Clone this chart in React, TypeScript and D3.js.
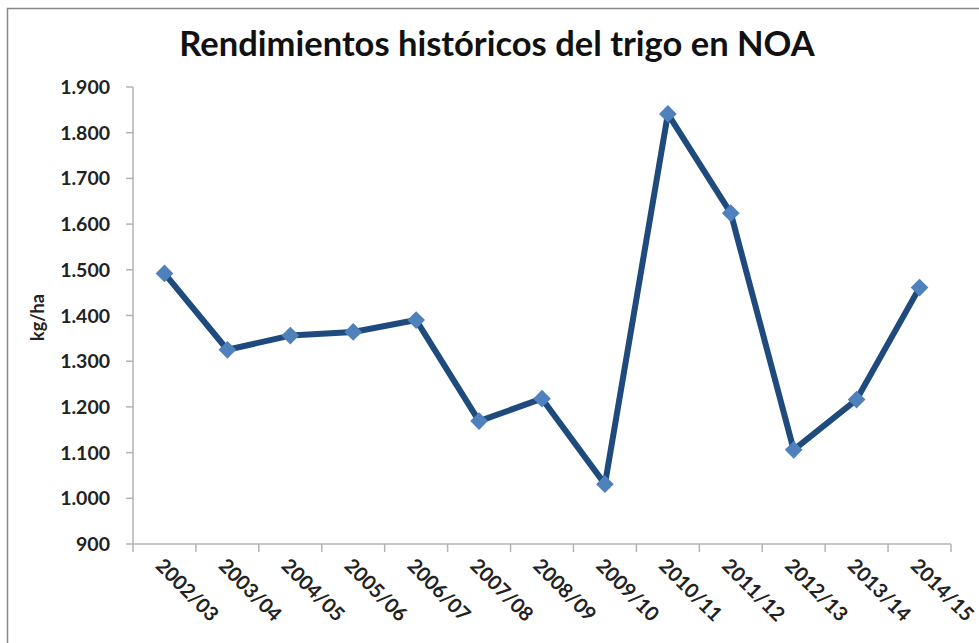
import React from "react";
import * as d3 from "d3";

const categories = ["2002/03","2003/04","2004/05","2005/06","2006/07","2007/08","2008/09","2009/10","2010/11","2011/12","2012/13","2013/14","2014/15"];
const values = [1492, 1325, 1356, 1364, 1390, 1169, 1218, 1031, 1841, 1624, 1106, 1216, 1461];
const yTicks = [900,1000,1100,1200,1300,1400,1500,1600,1700,1800,1900];
const title = "Rendimientos históricos del trigo en NOA";
const yLabel = "kg/ha";

const W = 979, H = 643;
const left = 133, right = 951, top = 87, bottom = 544;
const FONT = "Lato, 'Open Sans', sans-serif";

const fmt = (v: number) => d3.format(",")(v).replace(/,/g, ".");

export default function App() {
  const x = d3.scaleBand<string>().domain(categories).range([left, right]);
  const y = d3.scaleLinear().domain([900, 1900]).range([bottom, top]);
  const line = d3.line<number>()
    .x((_, i) => (x(categories[i]) as number) + x.bandwidth() / 2)
    .y((d) => y(d));
  const diamond = d3.symbol().type(d3.symbolDiamond2 ?? d3.symbolDiamond).size(200)();
  const boundaries = [...categories.map((c) => x(c) as number), right];
  return (
    <svg width={W} height={H} style={{ position: "absolute", left: 0, top: 0, background: "#fff" }}>
      <rect x={7.5} y={8.5} width={W + 10} height={H + 10} fill="#fff" stroke="#888" strokeWidth={1.5} />
      <text x={497} y={56} textAnchor="middle" fontFamily={FONT} fontWeight="bold" fontSize={34.5} fill="#111">{title}</text>
      <line x1={left} x2={left} y1={top} y2={bottom} stroke="#b3b3b3" strokeWidth={1.5} />
      <line x1={left} x2={right} y1={bottom} y2={bottom} stroke="#b3b3b3" strokeWidth={1.5} />
      {yTicks.map((t) => (
        <g key={t}>
          <line x1={left - 7} x2={left} y1={y(t)} y2={y(t)} stroke="#b3b3b3" strokeWidth={1.5} />
          <text x={left - 23} y={y(t)} dy="0.36em" textAnchor="end" fontFamily={FONT} fontWeight="bold" fontSize={19.5} fill="#222">{fmt(t)}</text>
        </g>
      ))}
      {boundaries.map((b, i) => (
        <line key={i} x1={b} x2={b} y1={bottom} y2={bottom + 8} stroke="#b3b3b3" strokeWidth={1.5} />
      ))}
      {categories.map((c) => {
        const cx = (x(c) as number) + x.bandwidth() / 2 - 10;
        const cy = bottom + 23;
        return (
          <text key={c} x={cx} y={cy} transform={`rotate(45 ${cx} ${cy})`} fontFamily={FONT} fontWeight="bold" fontSize={20} fill="#222">{c}</text>
        );
      })}
      <text transform={`translate(44 ${(top + bottom) / 2 + 2}) rotate(-90)`} textAnchor="middle" fontFamily={FONT} fontWeight="bold" fontSize={18} fill="#222">{yLabel}</text>
      <path d={line(values) as string} fill="none" stroke="#1f4a7e" strokeWidth={6} strokeLinejoin="round" />
      {values.map((v, i) => (
        <path key={i} d={diamond as string} transform={`translate(${(x(categories[i]) as number) + x.bandwidth() / 2},${y(v)})`} fill="#4f81bd" />
      ))}
    </svg>
  );
}
